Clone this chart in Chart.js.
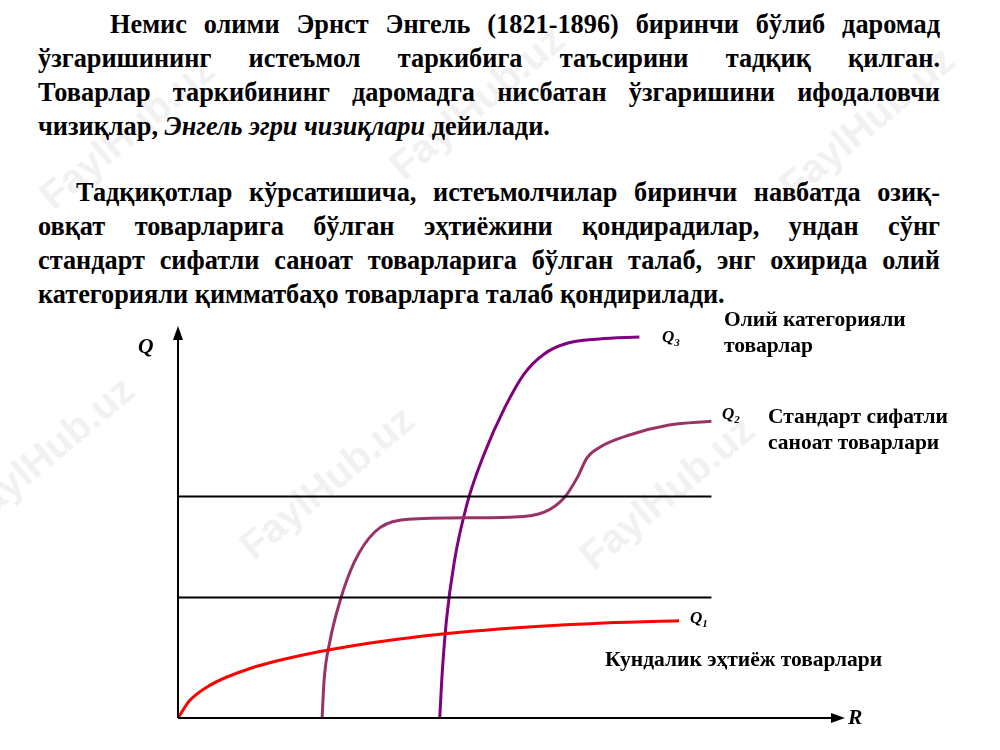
<!DOCTYPE html>
<html><head><meta charset="utf-8">
<script src="https://cdn.jsdelivr.net/npm/chart.js@4/dist/chart.umd.min.js"></script>
<style>
body{margin:0;width:1000px;height:750px;background:#fff;position:relative;overflow:hidden;font-family:"Liberation Serif","Times New Roman",serif;font-weight:bold;}
#c{position:absolute;left:0;top:0;}
.p{position:absolute;left:38px;width:902px;font-size:26.3px;line-height:34px;color:#000;}
.p div{text-align:justify;text-align-last:justify;white-space:nowrap;}
.p div.last{text-align-last:left;}
.l{position:absolute;font-size:21.5px;color:#000;line-height:26px;}
.wm{position:absolute;color:rgba(170,170,170,0.18);font-family:"Liberation Sans",Arial,sans-serif;font-size:40px;transform:rotate(-40deg);white-space:nowrap;}
i{font-style:italic}
</style></head><body>
<div class="wm" style="left:20px;top:110px">FaylHub.uz</div>
<div class="wm" style="left:370px;top:80px">FaylHub.uz</div>
<div class="wm" style="left:760px;top:100px">FaylHub.uz</div>
<div class="wm" style="left:-60px;top:430px">FaylHub.uz</div>
<div class="wm" style="left:220px;top:460px">FaylHub.uz</div>
<div class="wm" style="left:560px;top:470px">FaylHub.uz</div>
<div class="p" style="top:8px">
<div style="padding-left:72px">Немис олими Эрнст Энгель (1821-1896) биринчи бўлиб даромад</div>
<div>ўзгаришининг истеъмол таркибига таъсирини тадқиқ қилган.</div>
<div>Товарлар таркибининг даромадга нисбатан ўзгаришини ифодаловчи</div>
<div class="last">чизиқлар, <i>Энгель эгри чизиқлари</i> дейилади.</div>
</div>
<div class="p" style="top:176px">
<div style="padding-left:38px">Тадқиқотлар кўрсатишича, истеъмолчилар биринчи навбатда озиқ-</div>
<div>овқат товарларига бўлган эҳтиёжини қондирадилар, ундан сўнг</div>
<div>стандарт сифатли саноат товарларига бўлган талаб, энг охирида олий</div>
<div class="last">категорияли қимматбаҳо товарларга талаб қондирилади.</div>
</div>
<canvas id="c" width="1000" height="750"></canvas>
<div class="l" style="left:138px;top:333px"><i>Q</i></div>
<div class="l" style="left:848px;top:704px"><i>R</i></div>
<div class="l" style="left:662px;top:324px;font-size:17px"><i>Q<sub style="font-size:11px">3</sub></i></div>
<div class="l" style="left:722px;top:401px;font-size:17px"><i>Q<sub style="font-size:11px">2</sub></i></div>
<div class="l" style="left:690px;top:605px;font-size:17px"><i>Q<sub style="font-size:11px">1</sub></i></div>
<div class="l" style="left:724px;top:306px">Олий категорияли<br>товарлар</div>
<div class="l" style="left:768px;top:403px">Стандарт сифатли<br>саноат товарлари</div>
<div class="l" style="left:605px;top:646px">Кундалик эҳтиёж товарлари</div>
<script>
const q1X=[0,1.8,4.8,10.9,21.5,33.5,48.6,63.7,75.8];
const q1Y=[0,4.6,8.5,12.9,17.3,20.6,23.2,24.7,25.3];
const q2X=[21.8,22.1,23,24.5,26.7,29.8,33.5,41.1,50.2,55.4,58.5,60.4,61.9,63.7,68.3,74.3,80.7];
const q2Y=[0,9.8,20.1,30.4,40.7,48.5,51.5,52.1,52.3,53.6,57.5,62.6,67.8,70.4,73.7,76.3,77.3];
const q3X=[39.6,39.9,40.6,41.8,43.8,46.4,49.4,52.4,55.4,58.5,63.7,69.8];
const q3Y=[0,9.8,25.3,40.7,56.2,69.1,80.7,89.7,94.8,97.4,98.7,99.2];
const hLevels=[57.7,31.4];
const hEnd=80.7;
const pts=(xs,ys)=>xs.map((x,i)=>({x,y:ys[i]}));
const ds=[];
hLevels.forEach(h=>ds.push({data:[{x:0,y:h},{x:hEnd,y:h}],borderColor:'#000',borderWidth:2,pointRadius:0,showLine:true}));
ds.push({data:pts(q1X,q1Y),borderColor:'#ff0000',borderWidth:3,pointRadius:0,showLine:true,cubicInterpolationMode:'monotone'});
ds.push({data:pts(q2X,q2Y),borderColor:'#993366',borderWidth:3,pointRadius:0,showLine:true,cubicInterpolationMode:'monotone'});
ds.push({data:pts(q3X,q3Y),borderColor:'#800080',borderWidth:3,pointRadius:0,showLine:true,cubicInterpolationMode:'monotone'});
const axes={id:'axes',afterDatasetsDraw(ch){const c=ch.ctx,a=ch.chartArea;c.save();c.strokeStyle='#000';c.fillStyle='#000';c.lineWidth=2;
c.beginPath();c.moveTo(a.left,a.bottom);c.lineTo(a.left,a.top-2);c.moveTo(a.left,a.bottom);c.lineTo(a.right,a.bottom);c.stroke();
c.beginPath();c.moveTo(a.left,a.top-8);c.lineTo(a.left-5,a.top+6);c.lineTo(a.left+5,a.top+6);c.fill();
c.beginPath();c.moveTo(a.right+6,a.bottom);c.lineTo(a.right-8,a.bottom-5);c.lineTo(a.right-8,a.bottom+5);c.fill();c.restore();}};
new Chart(document.getElementById('c'),{type:'scatter',data:{datasets:ds},
options:{responsive:false,animation:false,layout:{padding:{left:178,right:161,top:334,bottom:32}},
plugins:{legend:{display:false},tooltip:{enabled:false}},
scales:{x:{type:'linear',min:0,max:100,display:false},y:{type:'linear',min:0,max:100,display:false}}},plugins:[axes]});
</script>
</body></html>
